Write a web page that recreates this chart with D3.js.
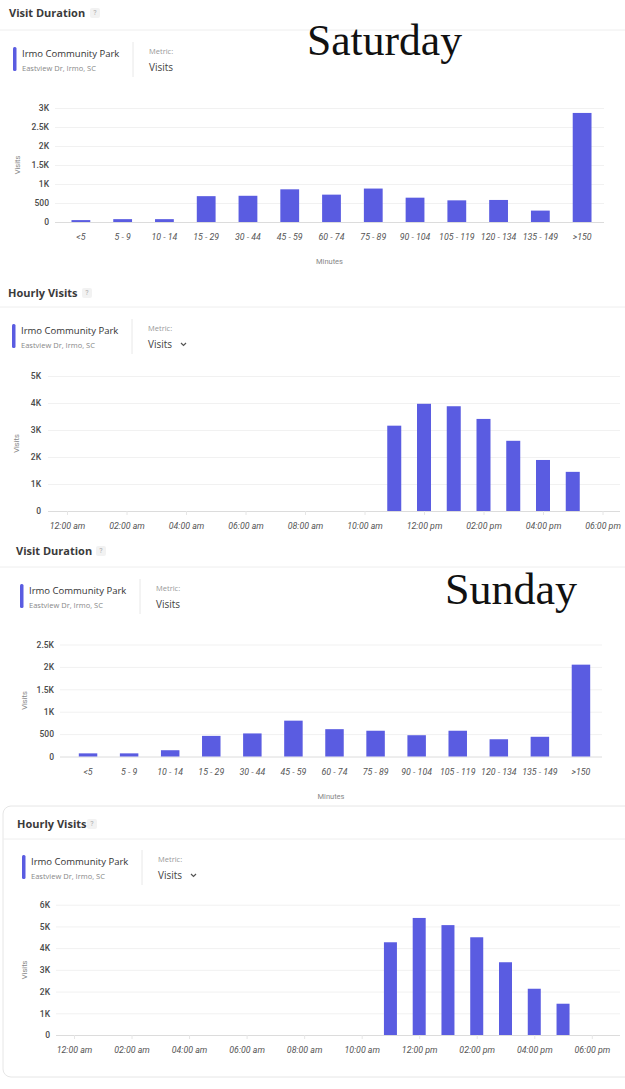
<!DOCTYPE html>
<html>
<head>
<meta charset="utf-8">
<script src="https://cdn.jsdelivr.net/npm/d3@7"></script>
<style>
body { margin: 0; background: #fff; }
svg { display: block; font-family: "Open Sans", sans-serif; }
.title { font-size: 11px; font-weight: 700; fill: #3a3a3a; }
.help { font-size: 7px; fill: #aaa; font-family: Roboto; }
.place { font-size: 9.5px; fill: #333; }
.addr { font-size: 7.5px; fill: #888; }
.metric { font-size: 7.5px; fill: #999; }
.metricval { font-size: 10px; fill: #444; }
.day { font-family: "Liberation Serif", serif; font-size: 44px; fill: #111; }
.yaxis text { font-family: Roboto; font-size: 8.5px; font-weight: 500; fill: #4a4a4a; }
.xaxis text { font-family: Roboto; font-size: 8.8px; font-style: italic; fill: #555; }
.axlabel { font-family: Roboto; font-size: 7.5px; fill: #888; }
</style>
</head>
<body>
<svg id="chart" width="625" height="1089"></svg>
<script>
// visit duration buckets (minutes)
var durationCats = ["<5", "5 - 9", "10 - 14", "15 - 29", "30 - 44", "45 - 59", "60 - 74",
  "75 - 89", "90 - 104", "105 - 119", "120 - 134", "135 - 149", ">150"];
var satDuration = [50, 75, 75, 680, 690, 860, 720, 880, 640, 570, 580, 300, 2870];
var sunDuration = [70, 70, 140, 460, 515, 800, 610, 575, 475, 575, 385, 440, 2050];
var satDurationTicks = [0, 500, 1000, 1500, 2000, 2500, 3000];
var sunDurationTicks = [0, 500, 1000, 1500, 2000, 2500];

// hourly visits
var hourTicks = [0, 2, 4, 6, 8, 10, 12, 14, 16, 18];
var hourTickLabels = ["12:00 am", "02:00 am", "04:00 am", "06:00 am", "08:00 am", "10:00 am",
  "12:00 pm", "02:00 pm", "04:00 pm", "06:00 pm"];
var visitHours = [11, 12, 13, 14, 15, 16, 17];
var satHourly = [3160, 3970, 3880, 3410, 2600, 1890, 1450];
var sunHourly = [4270, 5390, 5060, 4500, 3350, 2130, 1440];
var satHourlyTicks = [0, 1000, 2000, 3000, 4000, 5000];
var sunHourlyTicks = [0, 1000, 2000, 3000, 4000, 5000, 6000];

var barColor = "#5A5CE1";
var svg = d3.select("#chart");
svg.append("rect").attr("width", 625).attr("height", 1089).attr("fill", "#fff");

function kFormat(v) { return v >= 1000 ? (v / 1000) + "K" : v; }

function header(o) {
  svg.append("text").attr("class", "title").attr("x", o.tx).attr("y", o.ty).text(o.title);
  var q = svg.append("g").attr("transform", `translate(${o.qx},${o.ty - 4})`);
  q.append("rect").attr("x", -5).attr("y", -5).attr("width", 10).attr("height", 10).attr("rx", 2).attr("fill", "#f2f2f2");
  q.append("text").attr("class", "help").attr("text-anchor", "middle").attr("dy", "0.35em").text("?");
  svg.append("line").attr("x1", o.sepX).attr("x2", 625).attr("y1", o.sepY).attr("y2", o.sepY)
    .attr("stroke", "#eeeeee");

  svg.append("rect").attr("x", o.lx).attr("y", o.ly).attr("width", 3.5).attr("height", 24).attr("rx", 1.5)
    .attr("fill", barColor);
  svg.append("text").attr("class", "place").attr("x", o.lx + 9).attr("y", o.ly + 10).text("Irmo Community Park");
  svg.append("text").attr("class", "addr").attr("x", o.lx + 9).attr("y", o.ly + 23.5).text("Eastview Dr, Irmo, SC");
  svg.append("line").attr("x1", o.lx + 120).attr("x2", o.lx + 120).attr("y1", o.ly - 5).attr("y2", o.ly + 30)
    .attr("stroke", "#e8e8e8");
  svg.append("text").attr("class", "metric").attr("x", o.lx + 136).attr("y", o.ly + 7).text("Metric:");
  svg.append("text").attr("class", "metricval").attr("x", o.lx + 136).attr("y", o.ly + 23.5).text("Visits");
  if (o.chevron) {
    var cx = o.lx + 169, cy = o.ly + 19;
    svg.append("path").attr("d", `M${cx},${cy} l2.5,2.5 l2.5,-2.5`).attr("fill", "none")
      .attr("stroke", "#555").attr("stroke-width", 1.2);
  }
  if (o.day) {
    svg.append("text").attr("class", "day").attr("x", o.dayX).attr("y", o.dayY)
      .attr("textLength", o.dayW).attr("lengthAdjust", "spacingAndGlyphs").text(o.day);
  }
}

function styleY(sel) {
  sel.select(".domain").remove();
  sel.selectAll(".tick line").attr("stroke", d => d === 0 ? "#dcdcdc" : "#f1f1f1");
}

function durationChart(o, values, ticks) {
  var y = d3.scaleLinear().domain([0, ticks[ticks.length - 1]]).range([o.y0, o.yTop]);
  var x = d3.scaleBand().domain(durationCats).range([o.bx0, o.bx1]).paddingInner(0.55).paddingOuter(0.275);

  svg.append("g").attr("class", "yaxis").attr("transform", `translate(${o.left},0)`)
    .call(d3.axisLeft(y).tickValues(ticks).tickFormat(kFormat).tickSize(-(o.right - o.left)).tickPadding(o.pad))
    .call(styleY);

  svg.append("g").selectAll("rect").data(values).enter().append("rect")
    .attr("x", (d, i) => x(durationCats[i]))
    .attr("y", d => y(d))
    .attr("width", x.bandwidth())
    .attr("height", d => o.y0 - y(d))
    .attr("fill", barColor);

  svg.append("g").attr("class", "xaxis").attr("transform", `translate(0,${o.y0})`)
    .call(d3.axisBottom(x).tickSize(0).tickPadding(12))
    .call(g => g.select(".domain").remove());

  svg.append("text").attr("class", "axlabel").attr("text-anchor", "middle")
    .attr("x", (o.left + o.right) / 2).attr("y", o.y0 + 42).text("Minutes");
  svg.append("text").attr("class", "axlabel").attr("text-anchor", "middle")
    .attr("transform", `translate(${o.vx},${(o.y0 + o.yTop) / 2}) rotate(-90)`).text("Visits");
}

function hourlyChart(o, values, ticks) {
  var y = d3.scaleLinear().domain([0, ticks[ticks.length - 1]]).range([o.y0, o.yTop]);
  var x = d3.scaleLinear().domain([0, 18]).range([o.hx0, o.hx1]);
  var bw = o.bw;

  svg.append("g").attr("class", "yaxis").attr("transform", `translate(${o.left},0)`)
    .call(d3.axisLeft(y).tickValues(ticks).tickFormat(kFormat).tickSize(-(o.right - o.left)).tickPadding(o.pad))
    .call(styleY);

  svg.append("g").selectAll("rect").data(values).enter().append("rect")
    .attr("x", (d, i) => x(visitHours[i]) - bw / 2)
    .attr("y", d => y(d))
    .attr("width", bw)
    .attr("height", d => o.y0 - y(d))
    .attr("fill", barColor);

  svg.append("g").attr("class", "xaxis").attr("transform", `translate(0,${o.y0})`)
    .call(d3.axisBottom(x).tickValues(hourTicks).tickFormat((d, i) => hourTickLabels[i]).tickSize(4).tickPadding(8))
    .call(g => g.select(".domain").remove())
    .call(g => g.selectAll(".tick line").attr("stroke", "#e6e6e6"));

  svg.append("text").attr("class", "axlabel").attr("text-anchor", "middle")
    .attr("transform", `translate(${o.vx},${(o.y0 + o.yTop) / 2}) rotate(-90)`).text("Visits");
}

// card outline round the last panel
svg.append("rect").attr("x", 3).attr("y", 806).attr("width", 660).attr("height", 271).attr("rx", 8)
  .attr("fill", "none").attr("stroke", "#e6e6e6");

// Saturday
header({title: "Visit Duration", tx: 9, ty: 17, qx: 95, sepX: 0, sepY: 30, lx: 13, ly: 47,
  day: "Saturday", dayX: 307, dayY: 55, dayW: 155});
durationChart({left: 55, right: 604, y0: 222, yTop: 108, bx0: 60, bx1: 603, pad: 6, vx: 20},
  satDuration, satDurationTicks);

header({title: "Hourly Visits", tx: 8, ty: 297, qx: 87, sepX: 0, sepY: 307, lx: 12, ly: 324, chevron: true});
hourlyChart({left: 48, right: 620, y0: 511, yTop: 376, hx0: 67, hx1: 602.5, bw: 14, pad: 7, vx: 19},
  satHourly, satHourlyTicks);

// Sunday
header({title: "Visit Duration", tx: 16, ty: 555, qx: 101, sepX: 0, sepY: 567, lx: 20, ly: 584,
  day: "Sunday", dayX: 445, dayY: 604, dayW: 132});
durationChart({left: 60, right: 602, y0: 756.5, yTop: 644.5, bx0: 67.5, bx1: 601.5, pad: 6, vx: 27},
  sunDuration, sunDurationTicks);

header({title: "Hourly Visits", tx: 17, ty: 828, qx: 92, sepX: 3, sepY: 839, lx: 22, ly: 855, chevron: true});
hourlyChart({left: 56, right: 620, y0: 1035, yTop: 904.7, hx0: 74, hx1: 591.8, bw: 13, pad: 6, vx: 27},
  sunHourly, sunHourlyTicks);
</script>
</body>
</html>
